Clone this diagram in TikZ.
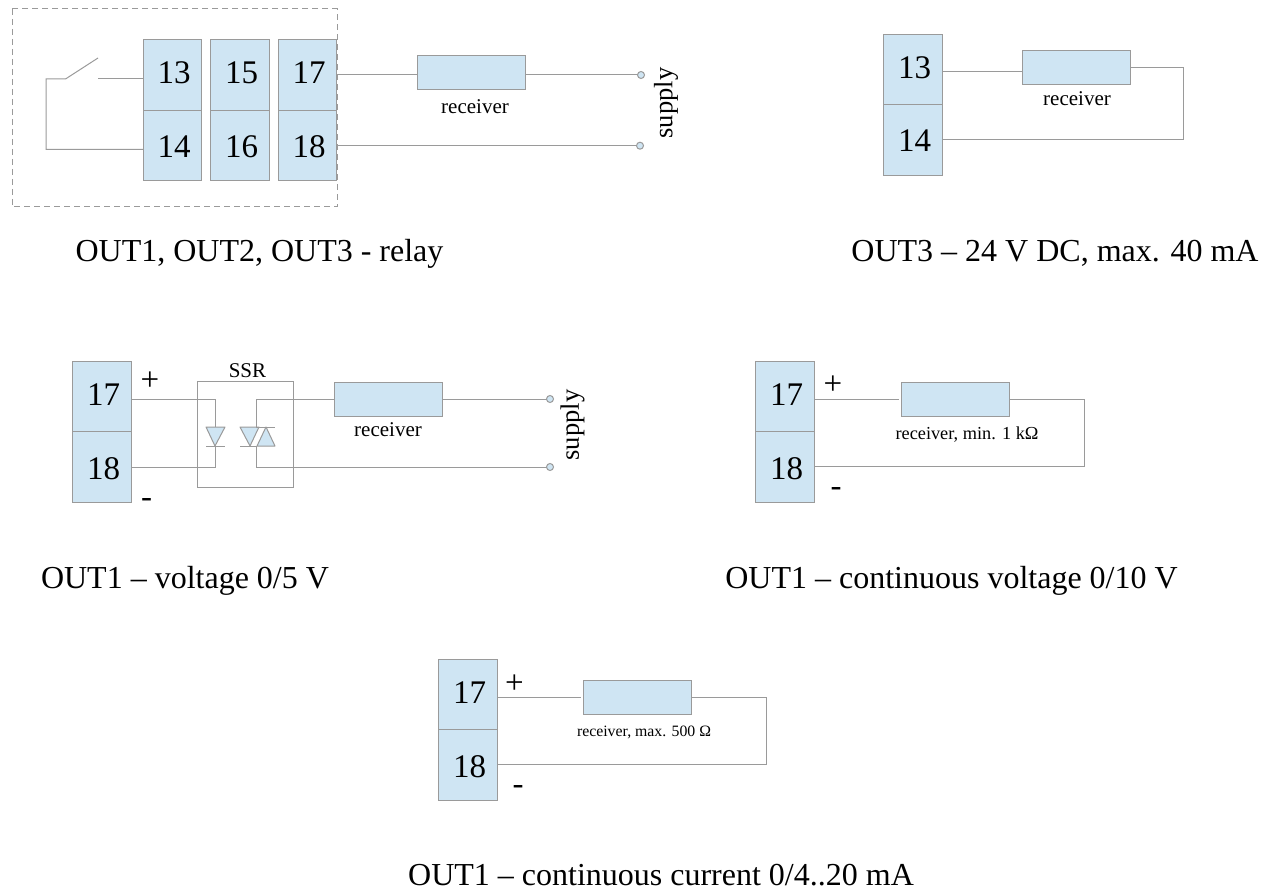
\documentclass[tikz,border=0pt]{standalone}
\usepackage{fontspec}
\setmainfont{Liberation Serif}
\definecolor{bluefill}{HTML}{CFE5F3}
\definecolor{wire}{HTML}{9A9A9A}
\newcommand{\fs}[1]{\fontsize{#1}{#1}\selectfont}
\newcommand{\numup}[1]{\hspace*{3pt}\raisebox{2pt}[22pt][0pt]{#1}}
\newcommand{\numdn}[1]{\hspace*{3pt}\raisebox{-1pt}[22pt][0pt]{#1}}
\tikzset{
  every node/.style={inner sep=0pt,outer sep=0pt},
  wireline/.style={draw=wire,line width=1pt},
  term/.style={wireline,fill=bluefill,minimum width=58.5pt,minimum height=70.5pt,font=\fs{33}},
  receiverbox/.style={wireline,fill=bluefill,minimum width=108pt,minimum height=34pt},
  termdot/.style={circle,wireline,fill=bluefill,minimum size=7pt},
  lab/.style={font=\fs{21}},
  captiontext/.style={font=\fs{32},anchor=base},
  signtext/.style={font=\fs{33}},
  tri/.style={wireline,fill=bluefill,line join=round},
}
\begin{document}
\begin{tikzpicture}[x=1pt,y=-1pt]
\useasboundingbox (0,0) rectangle (1268,890);
% relay
\draw[wireline,dash pattern=on 6pt off 4pt] (12,9) rectangle (337,207);
\node[term] (a13) at (172.5,75) {\numup{13}};
\node[term] (a14) at (172.5,145.5) {\numdn{14}};
\node[term] (a15) at (240,75) {\numup{15}};
\node[term] (a16) at (240,145.5) {\numdn{16}};
\node[term] (a17) at (307.5,75) {\numup{17}};
\node[term] (a18) at (307.5,145.5) {\numdn{18}};
\node[receiverbox] (ar) at (471,73) {};
\node[lab] (arl) at (475,107) {receiver};
\node[termdot] (as1) at (641,75) {};
\node[termdot] (as2) at (640,145.7) {};
\node[font=\fs{26.5},rotate=90] (asup) at (666,103) {supply};
\coordinate (sw1) at (98,79);
\coordinate (sw2) at (65.5,79);
\coordinate (sw3) at (98,58);
\coordinate (sw4) at (46,79);
\coordinate (sw5) at (46,149.5);
\draw[wireline] (a13.west |- sw1) -- (sw1);
\draw[wireline] (sw3) -- (sw2) -- (sw4) -- (sw5) -- (a14.west |- sw5);
\draw[wireline] (a17.east |- as1) -- (ar.west |- as1);
\draw[wireline] (ar.east |- as1) -- (as1);
\draw[wireline] (a18.east |- as2) -- (as2);
\node[captiontext] (acap) at (259.5,262) {OUT1, OUT2, OUT3 - relay};
% 24 V
\node[term] (b13) at (913,69.5) {\numup{13}};
\node[term] (b14) at (913,140) {\numdn{14}};
\node[receiverbox] (br) at (1076,67.5) {};
\node[lab] (brl) at (1077,99) {receiver};
\coordinate (bc1) at (1183,68);
\coordinate (bc2) at (1183,140);
\coordinate (bc3) at (1022,72);
\draw[wireline] (b13.east |- bc3) -- (bc3);
\draw[wireline] (br.east |- bc1) -- (bc1) -- (bc2) -- (b14.east |- bc2);
\node[captiontext] (bcap) at (1055,262) {OUT3 – 24 V DC, max. 40 mA};
% SSR
\node[term] (c17) at (102,396.5) {\numup{17}};
\node[term] (c18) at (102,467) {\numdn{18}};
\node[signtext] (cp) at (150,381) {+};
\node[signtext] (cm) at (146.5,503) {-};
\node[wireline,minimum width=96pt,minimum height=106pt] (ssr) at (245,434) {};
\node[lab] (ssrl) at (247.5,371) {SSR};
\node[receiverbox] (cr) at (388,399) {};
\node[lab] (crl) at (388,429.5) {receiver};
\node[termdot] (cs1) at (550,399) {};
\node[termdot] (cs2) at (550,467) {};
\node[font=\fs{26.5},rotate=90] (csup) at (572.5,425) {supply};
\draw[wireline] (c17.east |- cs1) -- (215,399) -- (215,427);
\draw[wireline] (215,446) -- (215,467) -- (c18.east |- cs2);
\draw[tri] (206,427) -- (225,427) -- (215,446) -- cycle;
\draw[wireline] (206,446) -- (225,446);
\draw[tri] (240,427) -- (259,427) -- (250,446) -- cycle;
\draw[tri] (266,427) -- (275,446) -- (257,446) -- cycle;
\draw[wireline] (240,446) -- (257,446);
\draw[wireline] (256,427) -- (275,427);
\draw[wireline] (256,427) -- (256,399) -- (cr.west |- cs1);
\draw[wireline] (cr.east |- cs1) -- (cs1);
\draw[wireline] (256,446) -- (256,467) -- (cs2);
\node[captiontext] (ccap) at (185,588) {OUT1 – voltage 0/5 V};
% 0/10 V
\node[term] (d17) at (785,396.5) {\numup{17}};
\node[term] (d18) at (785,467) {\numdn{18}};
\node[signtext] (dp) at (833,385.5) {+};
\node[signtext] (dm) at (836,491.5) {-};
\node[receiverbox] (dr) at (955,399.5) {};
\node[font=\fs{18.3}] (drl) at (967,435) {receiver, min. 1 kΩ};
\coordinate (dc1) at (1084,399);
\coordinate (dc2) at (1084,466);
\draw[wireline,shorten >=2pt] (d17.east |- dc1) -- (dr.west |- dc1);
\draw[wireline] (dr.east |- dc1) -- (dc1) -- (dc2) -- (d18.east |- dc2);
\node[captiontext] (dcap) at (951.5,588) {OUT1 – continuous voltage 0/10 V};
% current
\node[term] (e17) at (468,694.5) {\numup{17}};
\node[term] (e18) at (468,765) {\numdn{18}};
\node[signtext] (ep) at (514.5,684) {+};
\node[signtext] (em) at (518,789.5) {-};
\node[receiverbox] (er) at (637,697) {};
\node[font=\fs{15.8}] (erl) at (644,732) {receiver, max. 500 Ω};
\coordinate (ec1) at (766,697);
\coordinate (ec2) at (766,764);
\draw[wireline,shorten >=2pt] (e17.east |- ec1) -- (er.west);
\draw[wireline] (er.east) -- (ec1) -- (ec2) -- (e18.east |- ec2);
\node[captiontext] (ecap) at (661,885) {OUT1 – continuous current 0/4..20 mA};
\end{tikzpicture}
\end{document}
